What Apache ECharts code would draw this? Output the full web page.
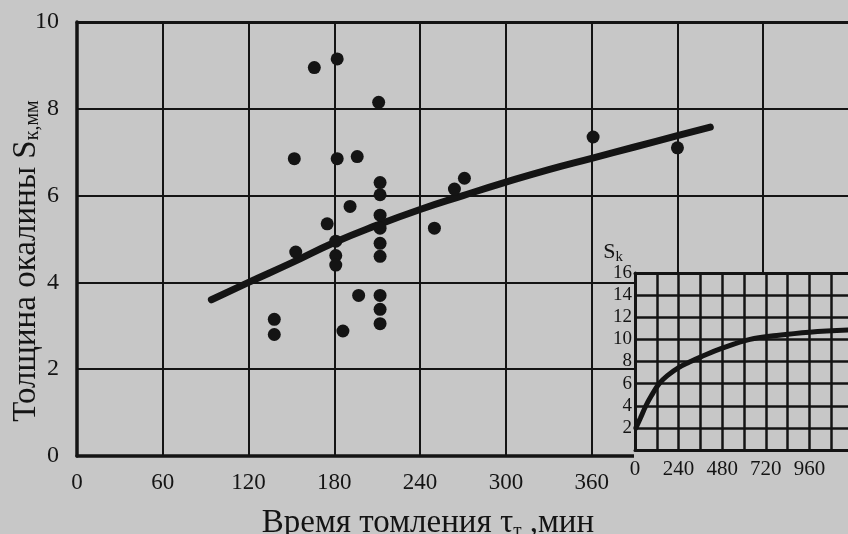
<!DOCTYPE html>
<html>
<head>
<meta charset="utf-8">
<script src="https://cdn.jsdelivr.net/npm/echarts@6/dist/echarts.min.js"></script>
<style>
html,body{margin:0;padding:0;background:#c7c7c7;}
#chart{width:848px;height:534px;}
</style>
</head>
<body>
<div id="chart"></div>
<script>
// ---- data ----
const xTickLabels = [0, 60, 120, 180, 240, 300, 360];
const yTickLabels = [0, 2, 4, 6, 8, 10];
const pointTime = [166, 182, 211, 152, 182, 196, 212, 212, 191, 175, 212, 212, 212, 212, 153, 181, 181, 181, 250, 264, 271, 138, 138, 197, 212, 212, 212, 186, 361, 420];
const pointThickness = [8.95, 9.15, 8.15, 6.85, 6.85, 6.9, 6.3, 6.02, 5.75, 5.35, 5.55, 5.25, 4.9, 4.6, 4.7, 4.95, 4.62, 4.4, 5.25, 6.15, 6.4, 3.15, 2.8, 3.7, 3.7, 3.38, 3.05, 2.88, 7.35, 7.1];
const curveTime = [94, 120, 150, 180, 210, 240, 270, 300, 330, 360, 390, 420, 443];
const curveThickness = [3.6, 4.0, 4.45, 4.92, 5.32, 5.68, 6.0, 6.31, 6.6, 6.86, 7.12, 7.38, 7.58];
const insetXTickLabels = [0, 240, 480, 720, 960];
const insetYTickLabels = [2, 4, 6, 8, 10, 12, 14, 16];
const insetTime = [5, 30, 60, 90, 133, 180, 240, 300, 360, 480, 633, 780, 960, 1180];
const insetThickness = [2.0, 2.9, 4.0, 4.9, 6.0, 6.75, 7.45, 7.95, 8.4, 9.2, 10.0, 10.35, 10.65, 10.85];

const ink = '#141414';
const bg = '#c7c7c7';
const serif = '"Liberation Serif", "DejaVu Serif", serif';

const chart = echarts.init(document.getElementById('chart'), null, {renderer: 'canvas'});
chart.setOption({
  backgroundColor: bg,
  animation: false,
  textStyle: {fontFamily: serif, color: ink},
  grid: [
    {left: 77, top: 22, width: 772, height: 434, containLabel: false, outerBoundsMode: 'none'},
    {left: 635, top: 273, width: 218, height: 177, containLabel: false, outerBoundsMode: 'none'}
  ],
  graphic: [
    {type: 'rect', z: 3, shape: {x: 634, y: 272, width: 220, height: 188}, style: {fill: bg}}
  ],
  xAxis: [
    {
      gridIndex: 0, type: 'value', min: 0, max: 540, interval: 60, z: 0,
      axisLine: {show: true, onZero: false, lineStyle: {color: ink, width: 3.5}},
      axisTick: {show: false},
      splitLine: {show: true, lineStyle: {color: ink, width: 2}},
      axisLabel: {
        formatter: v => xTickLabels.includes(v) ? String(v) : '',
        fontSize: 23, fontFamily: serif, color: ink, margin: 15
      },
      name: 'Время томления τ{sub|т} ,мин',
      nameLocation: 'middle', nameGap: 50, nameMoveOverlap: false,
      nameTextStyle: {
        fontSize: 33, fontFamily: serif, color: ink, padding: [0, 70, 0, 0],
        rich: {sub: {fontSize: 19, fontFamily: serif, color: ink, padding: [16, 0, 0, 0]}}
      }
    },
    {
      gridIndex: 0, type: 'value', min: 0, max: 540, position: 'top', z: 0,
      axisLine: {show: true, onZero: false, lineStyle: {color: ink, width: 3}},
      axisTick: {show: false}, axisLabel: {show: false}, splitLine: {show: false}
    },
    {
      gridIndex: 1, type: 'value', min: 0, max: 1200, interval: 120, z: 5,
      axisLine: {show: true, onZero: false, lineStyle: {color: ink, width: 3}},
      axisTick: {show: false},
      splitLine: {show: true, lineStyle: {color: ink, width: 2.5}},
      axisLabel: {
        formatter: v => insetXTickLabels.includes(v) ? String(v) : '',
        fontSize: 21, fontFamily: serif, color: ink, margin: 9
      }
    },
    {
      gridIndex: 1, type: 'value', min: 0, max: 1200, position: 'top', z: 5,
      axisLine: {show: true, onZero: false, lineStyle: {color: ink, width: 3}},
      axisTick: {show: false}, axisLabel: {show: false}, splitLine: {show: false}
    }
  ],
  yAxis: [
    {
      gridIndex: 0, type: 'value', min: 0, max: 10, interval: 2, z: 0,
      axisLine: {show: true, onZero: false, lineStyle: {color: ink, width: 3.5}},
      axisTick: {show: false},
      splitLine: {show: true, lineStyle: {color: ink, width: 2}},
      axisLabel: {
        formatter: v => yTickLabels.includes(v) ? String(v) : '',
        fontSize: 24, fontFamily: serif, color: ink, margin: 18
      },
      name: 'Толщина окалины S{sub|к,мм}',
      nameLocation: 'middle', nameRotate: 90, nameGap: 34, nameMoveOverlap: false,
      nameTextStyle: {
        fontSize: 33, fontFamily: serif, color: ink, padding: [0, 44, 0, 0],
        rich: {sub: {fontSize: 20, fontFamily: serif, color: ink, padding: [14, 0, 0, 0]}}
      }
    },
    {
      gridIndex: 1, type: 'value', min: 0, max: 16, interval: 2, z: 5,
      axisLine: {show: true, onZero: false, lineStyle: {color: ink, width: 3}},
      axisTick: {show: false},
      splitLine: {show: true, lineStyle: {color: ink, width: 2.5}},
      axisLabel: {
        formatter: v => insetYTickLabels.includes(v) ? String(v) : '',
        fontSize: 19, fontFamily: serif, color: ink, margin: 3, lineHeight: 19
      },
      name: 'S{sub|k}',
      nameLocation: 'end', nameGap: 8, nameMoveOverlap: false,
      nameTextStyle: {
        fontSize: 22, fontFamily: serif, color: ink, align: 'right', padding: [0, 12, 0, 0],
        rich: {sub: {fontSize: 15, fontFamily: serif, color: ink, padding: [10, 0, 0, 0]}}
      }
    }
  ],
  series: [
    {
      type: 'line', xAxisIndex: 0, yAxisIndex: 0, z: 2,
      data: curveTime.map((t, i) => [t, curveThickness[i]]),
      smooth: true, showSymbol: false, symbol: 'none',
      lineStyle: {color: ink, width: 7, cap: 'round'}
    },
    {
      type: 'scatter', xAxisIndex: 0, yAxisIndex: 0, z: 2,
      data: pointTime.map((t, i) => [t, pointThickness[i]]),
      symbol: 'circle', symbolSize: 13,
      itemStyle: {color: ink, opacity: 1}
    },
    {
      type: 'line', xAxisIndex: 2, yAxisIndex: 1, z: 6,
      data: insetTime.map((t, i) => [t, insetThickness[i]]),
      smooth: 0.4, showSymbol: false, symbol: 'none',
      lineStyle: {color: ink, width: 5, cap: 'round'}
    }
  ]
});
</script>
</body>
</html>
